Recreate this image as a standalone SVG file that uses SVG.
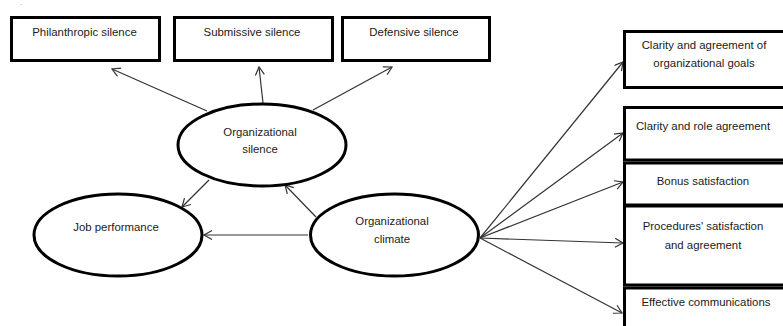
<svg xmlns="http://www.w3.org/2000/svg" width="783" height="326" viewBox="0 0 783 326">
<style>
.box{fill:#fff;stroke:#000;stroke-width:3}
.ell{fill:#fff;stroke:#000;stroke-width:3}
.t{font-family:"Liberation Sans",Arial,sans-serif;font-size:11.4px;fill:#1a1a1a;text-anchor:middle}
.c{stroke:#333;stroke-width:1.2;fill:none;marker-end:url(#ah)}
</style>
<defs>
<marker id="ah" markerUnits="userSpaceOnUse" markerWidth="12" markerHeight="12" refX="9" refY="5" orient="auto">
<path d="M1,0.5 L9,5 L1,9.5" fill="none" stroke="#333" stroke-width="1.2"/>
</marker>
</defs>
<text x="21" y="5" class="t" style="font-size:6px">.</text>
<g id="connectors">
<line class="c" x1="207" y1="111" x2="112" y2="69"/>
<line class="c" x1="263" y1="103" x2="259" y2="67"/>
<line class="c" x1="313" y1="110" x2="392" y2="67"/>
<line class="c" x1="209" y1="180" x2="182" y2="207"/>
<line class="c" x1="316" y1="217" x2="285" y2="185"/>
<line class="c" x1="308" y1="235" x2="204" y2="235"/>
<line class="c" x1="480" y1="238" x2="623" y2="62"/>
<line class="c" x1="480" y1="238" x2="623" y2="133"/>
<line class="c" x1="480" y1="238" x2="623" y2="182"/>
<line class="c" x1="480" y1="238" x2="623" y2="243"/>
<line class="c" x1="480" y1="238" x2="622" y2="313"/>
</g>
<g id="philanthropic">
<rect class="box" x="11.5" y="17.5" width="148" height="43"/>
<text class="t" x="84.5" y="36">Philanthropic silence</text>
</g>
<g id="submissive">
<rect class="box" x="174.5" y="17.5" width="158" height="43"/>
<text class="t" x="252" y="36">Submissive silence</text>
</g>
<g id="defensive">
<rect class="box" x="342.5" y="17.5" width="147" height="43"/>
<text class="t" x="414" y="36">Defensive silence</text>
</g>
<g id="org-silence">
<ellipse class="ell" cx="262" cy="145" rx="84" ry="41"/>
<text class="t" x="260" y="136">Organizational</text>
<text class="t" x="260" y="153">silence</text>
</g>
<g id="job-performance">
<ellipse class="ell" cx="118" cy="235" rx="84" ry="41"/>
<text class="t" x="116" y="231">Job performance</text>
</g>
<g id="org-climate">
<ellipse class="ell" cx="394.5" cy="235" rx="84" ry="41"/>
<text class="t" x="392" y="225">Organizational</text>
<text class="t" x="392" y="243">climate</text>
</g>
<g id="clarity-goals">
<rect class="box" x="624.5" y="31.5" width="170" height="56"/>
<text class="t" x="704" y="49">Clarity and agreement of</text>
<text class="t" x="704" y="67">organizational goals</text>
</g>
<g id="clarity-role">
<rect class="box" x="624.5" y="107.5" width="170" height="52.5"/>
<text class="t" x="703" y="130">Clarity and role agreement</text>
</g>
<g id="bonus">
<rect class="box" x="624.5" y="163" width="170" height="42"/>
<text class="t" x="703" y="185">Bonus satisfaction</text>
</g>
<g id="procedures">
<rect class="box" x="624.5" y="206" width="170" height="79"/>
<text class="t" x="703" y="230">Procedures' satisfaction</text>
<text class="t" x="703" y="249">and agreement</text>
</g>
<g id="effective">
<rect class="box" x="624.5" y="288" width="170" height="50"/>
<text class="t" x="706" y="306">Effective communications</text>
</g>
</svg>
